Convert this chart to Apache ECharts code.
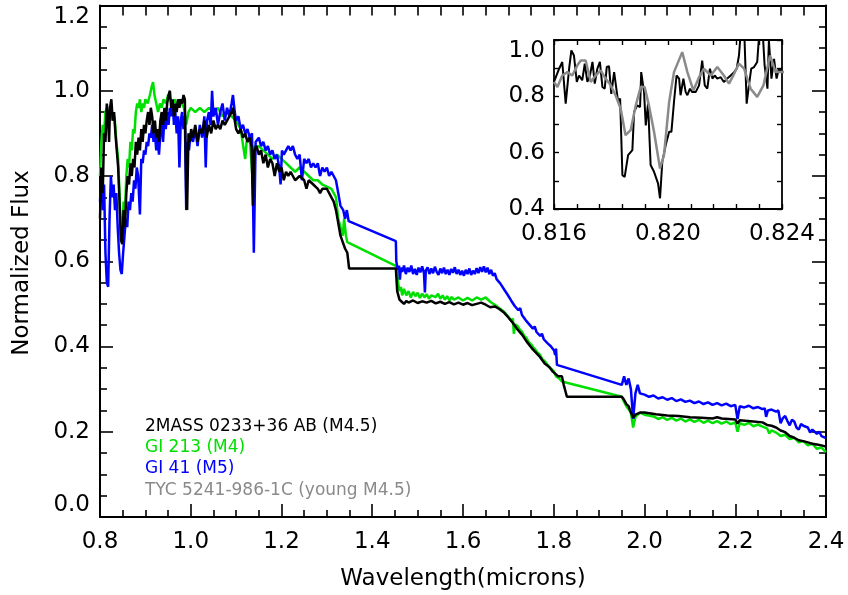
<!DOCTYPE html>
<html>
<head>
<meta charset="utf-8">
<script src="https://cdn.jsdelivr.net/npm/echarts@6/dist/echarts.min.js"></script>
<style>
  html, body { margin: 0; padding: 0; background: #fff; }
  #chart { width: 848px; height: 595px; }
</style>
</head>
<body>
<div id="chart"></div>
<script>
// Near-infrared spectra of M dwarfs, normalized flux vs wavelength (microns)
const seriesNames = ['2MASS 0233+36 AB (M4.5)', 'Gl 213 (M4)', 'Gl 41 (M5)', 'TYC 5241-986-1C (young M4.5)'];
const legendLabels = ['2MASS 0233+36 AB (M4.5)', 'GI 213 (M4)', 'GI 41 (M5)', 'TYC 5241-986-1C (young M4.5)'];

// Main panel axis ranges / ticks
const mainXRange = [0.8, 2.4];
const mainYRange = [0.0, 1.2];
const mainTickStep = 0.2;
// Inset panel axis ranges / ticks
const insetXRange = [0.816, 0.824];
const insetXStep = 0.004;
const insetYRange = [0.4, 1.0];
const insetYStep = 0.2;

// 2MASS 0233+36 AB
const blackWl = [0.800,0.803,0.806,0.809,0.812,0.815,0.818,0.820,0.822,0.825,0.828,0.831,0.834,0.837,0.840,0.843,0.846,0.849,0.852,0.855,0.858,0.861,0.864,0.867,0.870,0.873,0.876,0.879,0.882,0.885,0.888,0.891,0.894,0.897,0.900,0.903,0.906,0.909,0.912,0.915,0.918,0.921,0.924,0.927,0.930,0.933,0.936,0.939,0.942,0.945,0.948,0.951,0.954,0.957,0.960,0.963,0.966,0.969,0.972,0.975,0.978,0.981,0.984,0.987,0.990,0.992,0.995,0.998,1.001,1.005,1.010,1.015,1.020,1.025,1.030,1.035,1.040,1.045,1.050,1.055,1.060,1.065,1.070,1.075,1.080,1.085,1.090,1.093,1.097,1.100,1.105,1.110,1.115,1.120,1.125,1.130,1.134,1.137,1.140,1.145,1.150,1.155,1.160,1.165,1.170,1.175,1.180,1.185,1.190,1.195,1.200,1.205,1.210,1.215,1.220,1.225,1.230,1.240,1.250,1.255,1.260,1.270,1.280,1.285,1.290,1.300,1.305,1.310,1.315,1.320,1.325,1.330,1.335,1.340,1.345,1.349,1.452,1.455,1.460,1.465,1.470,1.475,1.480,1.490,1.500,1.510,1.520,1.530,1.540,1.550,1.560,1.570,1.580,1.590,1.600,1.610,1.620,1.630,1.640,1.650,1.660,1.670,1.680,1.690,1.700,1.710,1.720,1.730,1.740,1.754,1.770,1.780,1.790,1.798,1.810,1.818,1.822,1.829,1.950,1.955,1.960,1.965,1.970,1.975,1.980,1.990,2.000,2.025,2.050,2.075,2.100,2.125,2.150,2.160,2.170,2.200,2.205,2.210,2.240,2.260,2.270,2.280,2.290,2.300,2.310,2.320,2.330,2.340,2.350,2.360,2.370,2.380,2.390,2.400];
const blackFlux = [0.70,0.82,0.76,0.90,0.88,0.97,0.93,0.88,0.96,0.98,0.93,0.95,0.90,0.86,0.82,0.74,0.65,0.64,0.72,0.68,0.76,0.80,0.78,0.83,0.80,0.84,0.82,0.88,0.85,0.89,0.86,0.91,0.88,0.92,0.90,0.93,0.95,0.92,0.96,0.94,0.90,0.93,0.89,0.91,0.88,0.93,0.95,0.92,0.96,0.93,0.97,0.99,1.00,0.96,0.98,0.94,0.97,0.95,0.98,0.96,0.98,0.97,0.99,0.98,0.76,0.72,0.90,0.88,0.91,0.89,0.92,0.88,0.91,0.90,0.93,0.89,0.92,0.90,0.93,0.91,0.92,0.91,0.93,0.92,0.93,0.94,0.95,0.96,0.93,0.91,0.90,0.91,0.89,0.90,0.88,0.89,0.87,0.73,0.86,0.87,0.85,0.86,0.83,0.85,0.82,0.84,0.83,0.80,0.83,0.81,0.82,0.79,0.81,0.80,0.81,0.80,0.79,0.80,0.79,0.77,0.79,0.78,0.77,0.76,0.77,0.77,0.76,0.75,0.74,0.72,0.69,0.66,0.645,0.63,0.62,0.583,0.583,0.53,0.51,0.505,0.50,0.507,0.503,0.508,0.502,0.506,0.503,0.507,0.501,0.505,0.50,0.504,0.499,0.503,0.498,0.502,0.497,0.50,0.503,0.498,0.492,0.494,0.488,0.48,0.468,0.455,0.44,0.428,0.412,0.393,0.375,0.36,0.352,0.341,0.33,0.33,0.31,0.282,0.282,0.275,0.265,0.26,0.245,0.233,0.24,0.245,0.245,0.241,0.238,0.237,0.234,0.233,0.231,0.234,0.231,0.229,0.219,0.227,0.224,0.222,0.216,0.214,0.21,0.203,0.199,0.19,0.186,0.18,0.178,0.175,0.172,0.17,0.168,0.165];

// Gl 213
const greenWl = [0.800,0.803,0.806,0.809,0.812,0.815,0.818,0.822,0.825,0.828,0.832,0.836,0.840,0.843,0.846,0.849,0.852,0.855,0.858,0.861,0.864,0.867,0.870,0.873,0.876,0.879,0.882,0.885,0.888,0.891,0.894,0.897,0.900,0.905,0.910,0.914,0.917,0.920,0.924,0.928,0.932,0.936,0.940,0.945,0.950,0.955,0.960,0.965,0.970,0.975,0.980,0.985,0.990,0.995,1.000,1.010,1.020,1.030,1.040,1.050,1.060,1.070,1.080,1.090,1.100,1.110,1.117,1.120,1.123,1.130,1.137,1.140,1.150,1.160,1.170,1.180,1.190,1.200,1.210,1.220,1.230,1.240,1.250,1.260,1.270,1.280,1.290,1.300,1.310,1.320,1.325,1.330,1.335,1.338,1.342,1.345,1.454,1.457,1.460,1.463,1.466,1.470,1.475,1.480,1.485,1.490,1.495,1.500,1.505,1.510,1.515,1.520,1.525,1.530,1.540,1.545,1.550,1.555,1.560,1.565,1.570,1.575,1.580,1.590,1.600,1.610,1.620,1.630,1.640,1.650,1.660,1.670,1.680,1.690,1.700,1.705,1.710,1.712,1.715,1.720,1.725,1.730,1.735,1.740,1.745,1.750,1.755,1.760,1.765,1.770,1.775,1.780,1.790,1.800,1.805,1.812,1.818,1.950,1.955,1.960,1.970,1.975,1.980,1.990,2.000,2.020,2.030,2.040,2.050,2.060,2.070,2.080,2.090,2.100,2.110,2.120,2.130,2.140,2.150,2.160,2.170,2.180,2.190,2.200,2.205,2.210,2.220,2.230,2.240,2.250,2.260,2.270,2.275,2.280,2.290,2.300,2.310,2.320,2.330,2.340,2.350,2.360,2.370,2.380,2.390,2.400];
const greenFlux = [0.80,0.88,0.92,0.90,0.95,0.96,0.92,0.95,0.96,0.93,0.94,0.88,0.84,0.76,0.66,0.67,0.74,0.72,0.80,0.84,0.82,0.88,0.86,0.91,0.90,0.95,0.97,0.96,0.98,0.95,0.97,0.96,0.98,0.97,0.99,1.01,1.02,0.99,0.97,0.95,0.97,0.96,0.98,0.97,0.99,0.98,0.97,0.98,0.96,0.98,0.97,0.96,0.92,0.95,0.96,0.95,0.96,0.95,0.96,0.95,0.96,0.94,0.95,0.94,0.93,0.91,0.86,0.84,0.88,0.89,0.78,0.87,0.87,0.86,0.85,0.84,0.85,0.84,0.83,0.82,0.81,0.82,0.81,0.80,0.79,0.79,0.78,0.775,0.77,0.75,0.70,0.68,0.66,0.70,0.66,0.645,0.588,0.55,0.53,0.54,0.52,0.535,0.52,0.53,0.515,0.528,0.518,0.526,0.514,0.524,0.515,0.523,0.512,0.52,0.516,0.524,0.512,0.52,0.51,0.518,0.508,0.516,0.51,0.515,0.508,0.514,0.508,0.515,0.51,0.515,0.505,0.498,0.49,0.482,0.47,0.462,0.465,0.43,0.452,0.448,0.44,0.435,0.425,0.42,0.41,0.405,0.398,0.392,0.385,0.38,0.37,0.366,0.352,0.342,0.33,0.325,0.318,0.282,0.27,0.26,0.245,0.21,0.235,0.245,0.24,0.236,0.23,0.234,0.228,0.233,0.226,0.231,0.224,0.229,0.223,0.228,0.221,0.226,0.22,0.225,0.219,0.224,0.218,0.222,0.20,0.22,0.216,0.221,0.213,0.217,0.212,0.208,0.196,0.203,0.198,0.19,0.193,0.183,0.186,0.175,0.178,0.168,0.172,0.16,0.163,0.152];

// Gl 41
const blueWl = [0.800,0.803,0.806,0.809,0.812,0.815,0.818,0.821,0.824,0.827,0.830,0.833,0.836,0.839,0.842,0.845,0.848,0.851,0.854,0.857,0.860,0.863,0.866,0.869,0.872,0.875,0.878,0.881,0.884,0.888,0.891,0.894,0.897,0.900,0.903,0.906,0.909,0.912,0.915,0.918,0.921,0.924,0.927,0.930,0.933,0.936,0.939,0.942,0.945,0.948,0.951,0.954,0.957,0.960,0.963,0.966,0.969,0.972,0.975,0.978,0.981,0.984,0.987,0.990,0.993,0.996,1.000,1.005,1.010,1.015,1.020,1.025,1.030,1.033,1.036,1.040,1.044,1.047,1.050,1.055,1.060,1.065,1.070,1.075,1.080,1.085,1.090,1.093,1.097,1.100,1.105,1.110,1.115,1.120,1.125,1.130,1.135,1.139,1.143,1.150,1.155,1.160,1.165,1.170,1.175,1.180,1.185,1.190,1.195,1.198,1.201,1.205,1.210,1.215,1.220,1.225,1.230,1.235,1.240,1.245,1.250,1.255,1.260,1.265,1.270,1.275,1.280,1.285,1.290,1.295,1.300,1.305,1.310,1.315,1.320,1.325,1.330,1.336,1.340,1.344,1.348,1.452,1.453,1.456,1.459,1.461,1.463,1.466,1.470,1.474,1.478,1.482,1.486,1.490,1.494,1.498,1.502,1.506,1.510,1.514,1.516,1.518,1.522,1.526,1.530,1.534,1.538,1.542,1.546,1.550,1.554,1.558,1.562,1.566,1.570,1.574,1.578,1.582,1.586,1.590,1.594,1.598,1.602,1.606,1.610,1.614,1.618,1.622,1.626,1.630,1.634,1.638,1.642,1.646,1.650,1.654,1.658,1.662,1.666,1.670,1.674,1.678,1.682,1.686,1.690,1.694,1.698,1.702,1.706,1.710,1.714,1.718,1.722,1.726,1.730,1.734,1.738,1.742,1.746,1.750,1.754,1.758,1.762,1.766,1.770,1.774,1.778,1.782,1.786,1.790,1.794,1.798,1.801,1.803,1.805,1.807,1.950,1.955,1.960,1.965,1.970,1.975,1.980,1.985,1.990,2.000,2.010,2.020,2.030,2.040,2.050,2.060,2.070,2.080,2.090,2.100,2.110,2.120,2.130,2.140,2.150,2.160,2.170,2.180,2.190,2.200,2.205,2.210,2.220,2.230,2.240,2.250,2.260,2.265,2.268,2.272,2.280,2.290,2.295,2.300,2.305,2.310,2.315,2.320,2.325,2.330,2.335,2.340,2.345,2.350,2.360,2.365,2.370,2.380,2.385,2.390,2.400];
const blueFlux = [0.74,0.80,0.72,0.78,0.62,0.55,0.54,0.70,0.80,0.75,0.78,0.72,0.76,0.68,0.62,0.58,0.57,0.62,0.66,0.70,0.68,0.74,0.72,0.76,0.74,0.79,0.77,0.82,0.80,0.71,0.84,0.83,0.86,0.85,0.88,0.87,0.90,0.89,0.92,0.88,0.90,0.86,0.89,0.85,0.90,0.93,0.88,0.94,0.91,0.95,0.92,0.96,0.94,0.97,0.92,0.95,0.90,0.94,0.82,0.93,0.95,0.91,0.94,0.72,0.88,0.86,0.90,0.88,0.91,0.87,0.92,0.89,0.94,0.82,0.93,0.95,0.92,1.00,0.94,0.96,0.92,0.95,0.97,0.93,0.96,0.94,0.97,0.99,0.95,0.93,0.94,0.91,0.92,0.90,0.91,0.89,0.90,0.62,0.88,0.89,0.87,0.88,0.86,0.87,0.85,0.86,0.84,0.85,0.82,0.78,0.86,0.85,0.86,0.87,0.86,0.87,0.85,0.84,0.85,0.79,0.84,0.83,0.84,0.82,0.83,0.82,0.83,0.80,0.82,0.81,0.82,0.80,0.81,0.80,0.79,0.76,0.73,0.72,0.70,0.72,0.694,0.647,0.60,0.58,0.59,0.557,0.585,0.575,0.59,0.57,0.585,0.575,0.59,0.57,0.582,0.568,0.585,0.574,0.588,0.572,0.527,0.578,0.586,0.57,0.583,0.572,0.587,0.575,0.568,0.583,0.572,0.585,0.57,0.58,0.568,0.582,0.573,0.586,0.57,0.58,0.568,0.578,0.566,0.58,0.57,0.583,0.568,0.578,0.57,0.584,0.572,0.586,0.575,0.588,0.574,0.585,0.57,0.58,0.566,0.572,0.558,0.562,0.548,0.55,0.535,0.538,0.522,0.525,0.508,0.51,0.495,0.498,0.485,0.49,0.474,0.478,0.462,0.466,0.452,0.455,0.442,0.447,0.434,0.438,0.425,0.43,0.417,0.42,0.408,0.412,0.40,0.404,0.39,0.38,0.395,0.357,0.31,0.33,0.31,0.325,0.30,0.23,0.29,0.31,0.29,0.287,0.282,0.285,0.278,0.281,0.275,0.279,0.272,0.276,0.27,0.273,0.267,0.271,0.265,0.269,0.263,0.267,0.262,0.266,0.26,0.263,0.23,0.26,0.257,0.261,0.255,0.258,0.253,0.255,0.235,0.25,0.252,0.247,0.25,0.22,0.232,0.237,0.225,0.215,0.228,0.224,0.21,0.205,0.218,0.214,0.21,0.198,0.205,0.195,0.20,0.19,0.185];

// Inset: K I doublet region, 2MASS 0233+36 AB
const insetBlackWl = [0.81600,0.81618,0.81629,0.81641,0.81653,0.81661,0.81670,0.81680,0.81688,0.81699,0.81708,0.81717,0.81726,0.81735,0.81743,0.81752,0.81761,0.81770,0.81778,0.81785,0.81793,0.81801,0.81811,0.81818,0.81825,0.81832,0.81840,0.81848,0.81860,0.81875,0.81881,0.81892,0.81902,0.81906,0.81916,0.81922,0.81930,0.81939,0.81951,0.81965,0.81972,0.81980,0.81992,0.82004,0.82012,0.82021,0.82030,0.82039,0.82044,0.82054,0.82062,0.82068,0.82077,0.82085,0.82097,0.82109,0.82120,0.82129,0.82138,0.82147,0.82156,0.82164,0.82173,0.82185,0.82196,0.82208,0.82220,0.82232,0.82241,0.82249,0.82257,0.82267,0.82276,0.82284,0.82292,0.82302,0.82313,0.82322,0.82331,0.82339,0.82349,0.82354,0.82363,0.82372,0.82381,0.82389,0.82401];
const insetBlackFlux = [0.851,0.898,0.922,0.774,0.898,0.963,0.945,0.851,0.874,0.857,0.916,0.851,0.874,0.922,0.845,0.898,0.922,0.833,0.827,0.904,0.907,0.809,0.886,0.880,0.780,0.792,0.520,0.514,0.591,0.609,0.745,0.768,0.762,0.886,0.815,0.697,0.774,0.556,0.532,0.491,0.438,0.568,0.627,0.674,0.674,0.780,0.874,0.863,0.804,0.863,0.815,0.804,0.827,0.815,0.815,0.839,0.927,0.839,0.827,0.898,0.863,0.874,0.863,0.868,0.851,0.863,0.874,0.886,0.898,0.945,1.05,1.05,0.774,0.839,0.898,0.904,0.922,1.05,1.05,0.910,0.827,0.998,0.863,0.933,0.863,0.898,0.886];

// Inset: TYC 5241-986-1C
const insetGrayWl = [0.81600,0.81612,0.81629,0.81647,0.81664,0.81682,0.81694,0.81711,0.81729,0.81746,0.81764,0.81781,0.81799,0.81816,0.81834,0.81851,0.81869,0.81887,0.81904,0.81918,0.81933,0.81951,0.81972,0.81986,0.82004,0.82021,0.82050,0.82068,0.82089,0.82109,0.82126,0.82150,0.82173,0.82196,0.82214,0.82232,0.82249,0.82267,0.82290,0.82313,0.82335,0.82358,0.82378,0.82407];
const insetGrayFlux = [0.851,0.833,0.874,0.886,0.874,0.910,0.927,0.927,0.851,0.874,0.892,0.863,0.839,0.804,0.756,0.662,0.680,0.768,0.833,0.833,0.768,0.674,0.544,0.591,0.780,0.886,0.957,0.886,0.821,0.868,0.898,0.874,0.904,0.874,0.845,0.880,0.916,0.898,0.827,0.798,0.839,0.945,0.886,0.886];

const colors = { black: '#000000', green: '#00e000', blue: '#0000ff', gray: '#8a8a8a' };
const FONT = 'DejaVu Sans';

function pairs(xs, ys) { return xs.map((x, i) => [x, ys[i]]); }

const chart = echarts.init(document.getElementById('chart'), null, { renderer: 'canvas' });

function axisBase(extra) {
  return Object.assign({
    type: 'value',
    axisLine: { show: true, onZero: false, lineStyle: { color: '#000', width: 2 } },
    splitLine: { show: false },
    minorSplitLine: { show: false }
  }, extra);
}

const mainTick = { show: true, inside: true, length: 13, lineStyle: { color: '#000', width: 1.6 } };
const mainMinor = { show: true, splitNumber: 4, length: 7, lineStyle: { color: '#000', width: 1.6 } };
const insetTick = { show: true, inside: true, length: 5, lineStyle: { color: '#000', width: 1.4 } };
const labelStyle = { color: '#000', fontSize: 23, fontFamily: FONT };

const option = {
  animation: false,
  backgroundColor: '#fff',
  textStyle: { fontFamily: FONT },
  grid: [
    { left: 100, top: 5.5, width: 726, height: 511.5, containLabel: false },
    { left: 554, top: 40, width: 228, height: 169, containLabel: false }
  ],
  xAxis: [
    axisBase({ gridIndex: 0, position: 'bottom', min: mainXRange[0], max: mainXRange[1], interval: mainTickStep,
      axisTick: mainTick, minorTick: mainMinor,
      axisLabel: Object.assign({ margin: 14, formatter: v => v.toFixed(1) }, labelStyle) }),
    axisBase({ gridIndex: 0, position: 'top', min: mainXRange[0], max: mainXRange[1], interval: mainTickStep,
      axisTick: Object.assign({}, mainTick, { length: 10 }), minorTick: Object.assign({}, mainMinor, { length: 10 }),
      axisLabel: { show: false } }),
    axisBase({ gridIndex: 1, position: 'bottom', min: insetXRange[0], max: insetXRange[1], interval: insetXStep,
      axisLine: { show: true, onZero: false, lineStyle: { color: '#000', width: 1.8 } },
      axisTick: insetTick, minorTick: { show: true, splitNumber: 5, length: 5, lineStyle: { color: '#000', width: 1.4 } },
      axisLabel: Object.assign({ margin: 14, formatter: v => v.toFixed(3) }, labelStyle) }),
    axisBase({ gridIndex: 1, position: 'top', min: insetXRange[0], max: insetXRange[1], interval: insetXStep,
      axisLine: { show: true, onZero: false, lineStyle: { color: '#000', width: 1.8 } },
      axisTick: insetTick, minorTick: { show: true, splitNumber: 5, length: 5, lineStyle: { color: '#000', width: 1.4 } },
      axisLabel: { show: false } })
  ],
  yAxis: [
    axisBase({ gridIndex: 0, position: 'left', min: mainYRange[0], max: mainYRange[1], interval: mainTickStep,
      axisTick: mainTick, minorTick: mainMinor,
      axisLabel: Object.assign({ margin: 10, formatter: v => v.toFixed(1),
        verticalAlignMinLabel: 'bottom', verticalAlignMaxLabel: 'top' }, labelStyle) }),
    axisBase({ gridIndex: 0, position: 'right', min: mainYRange[0], max: mainYRange[1], interval: mainTickStep,
      axisTick: Object.assign({}, mainTick, { length: 14 }), minorTick: mainMinor,
      axisLabel: { show: false } }),
    axisBase({ gridIndex: 1, position: 'left', min: insetYRange[0], max: insetYRange[1], interval: insetYStep,
      axisLine: { show: true, onZero: false, lineStyle: { color: '#000', width: 1.8 } },
      axisTick: insetTick, minorTick: { show: true, splitNumber: 2, length: 5, lineStyle: { color: '#000', width: 1.4 } },
      axisLabel: Object.assign({ margin: 9, formatter: v => v.toFixed(1), verticalAlignMaxLabel: 'top' }, labelStyle) }),
    axisBase({ gridIndex: 1, position: 'right', min: insetYRange[0], max: insetYRange[1], interval: insetYStep,
      axisLine: { show: true, onZero: false, lineStyle: { color: '#000', width: 1.8 } },
      axisTick: insetTick, minorTick: { show: true, splitNumber: 2, length: 5, lineStyle: { color: '#000', width: 1.4 } },
      axisLabel: { show: false } })
  ],
  series: [
    { name: seriesNames[1], type: 'line', xAxisIndex: 0, yAxisIndex: 0, data: pairs(greenWl, greenFlux),
      showSymbol: false, clip: true, lineStyle: { color: colors.green, width: 2.5 }, z: 2 },
    { name: seriesNames[2], type: 'line', xAxisIndex: 0, yAxisIndex: 0, data: pairs(blueWl, blueFlux),
      showSymbol: false, clip: true, lineStyle: { color: colors.blue, width: 2.5 }, z: 3 },
    { name: seriesNames[0], type: 'line', xAxisIndex: 0, yAxisIndex: 0, data: pairs(blackWl, blackFlux),
      showSymbol: false, clip: true, lineStyle: { color: colors.black, width: 2.5 }, z: 4 },
    { name: seriesNames[0] + ' inset', type: 'line', xAxisIndex: 2, yAxisIndex: 2, data: pairs(insetBlackWl, insetBlackFlux),
      showSymbol: false, clip: true, lineStyle: { color: colors.black, width: 2 }, z: 4 },
    { name: seriesNames[3], type: 'line', xAxisIndex: 2, yAxisIndex: 2, data: pairs(insetGrayWl, insetGrayFlux),
      showSymbol: false, clip: true, lineStyle: { color: colors.gray, width: 2.5 }, z: 5 }
  ],
  graphic: [
    { type: 'text', x: 463, y: 579, style: { text: 'Wavelength(microns)', fill: '#000', font: '23px "' + FONT + '"', align: 'center', verticalAlign: 'middle' } },
    { type: 'text', x: 22, y: 263, rotation: Math.PI / 2, style: { text: 'Normalized Flux', fill: '#000', font: '23px "' + FONT + '"', align: 'center', verticalAlign: 'middle' } },
    { type: 'text', x: 145, y: 427, style: { text: legendLabels[0], fill: colors.black, font: '17px "' + FONT + '"', verticalAlign: 'middle' } },
    { type: 'text', x: 145, y: 448, style: { text: legendLabels[1], fill: colors.green, font: '17px "' + FONT + '"', verticalAlign: 'middle' } },
    { type: 'text', x: 145, y: 469, style: { text: legendLabels[2], fill: colors.blue, font: '17px "' + FONT + '"', verticalAlign: 'middle' } },
    { type: 'text', x: 145, y: 491, style: { text: legendLabels[3], fill: colors.gray, font: '17px "' + FONT + '"', verticalAlign: 'middle' } }
  ]
};

chart.setOption(option);
</script>
</body>
</html>
